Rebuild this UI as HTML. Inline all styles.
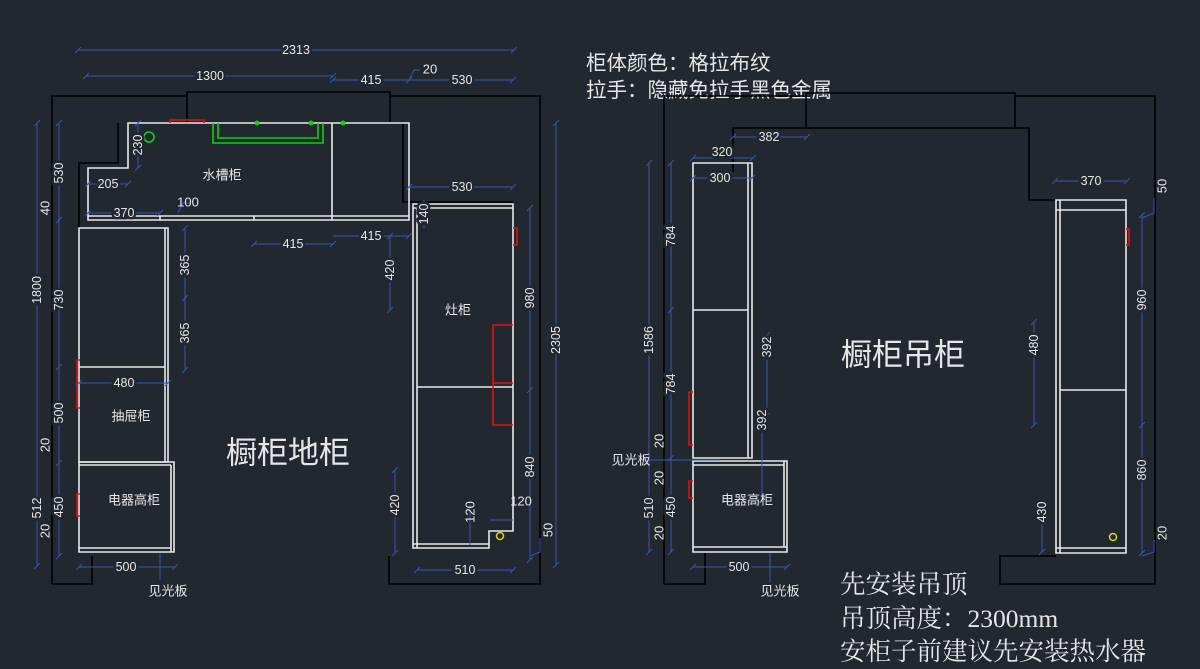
<!DOCTYPE html>
<html><head><meta charset="utf-8"><style>
html,body{margin:0;padding:0;background:#212830;width:1200px;height:669px;overflow:hidden}
svg{display:block}
.w{stroke:#e8e8e8;stroke-width:1.6;fill:none}
.k{stroke:#000;stroke-width:1.6;fill:none}
.r{stroke:#e01010;stroke-width:1.6;fill:none}
.g{stroke:#10d010;stroke-width:1.6;fill:none}
.b{stroke:#3558a8;stroke-width:1;fill:none}
text{font-family:"Liberation Sans","Noto Sans CJK SC",sans-serif;fill:#e6e6e6}
.d{font-size:12.5px;text-anchor:middle;dominant-baseline:central;stroke:#212830;stroke-width:5;paint-order:stroke}
.l{font-size:13px;text-anchor:middle;dominant-baseline:central}
.s{font-family:"Liberation Serif","Noto Serif CJK SC",serif;font-size:25.5px}
</style></head><body>
<svg width="1200" height="669" viewBox="0 0 1200 669" xmlns="http://www.w3.org/2000/svg">
<path class="k" d="M52 584 V96 H187 V92 H390 V96 H540 V584 H389 V556 M52 584 H92 V556"/>
<path class="k" d="M187 92 V123 M390 92 V122 M118 123 V163 H79 V230 M403 123 V202 H513"/>
<path class="w" d="M128 123 H409 V220 H88 V168 H128 Z M88 216 H409 M332 123 V220 M160 216 V220 M254 216 V220"/>
<path class="r" d="M170 123 V120 H204 V123"/>
<path class="g" d="M213 123 V143 H323 V123 M218 123 V138 H318 V123"/>
<circle cx="257" cy="123" r="2.5" fill="#10d010"/><circle cx="311" cy="123" r="2.5" fill="#10d010"/><circle cx="343" cy="123" r="2.5" fill="#10d010"/>
<circle class="g" cx="149" cy="137" r="5"/>
<path class="w" d="M79 228 H168 V462 H79 Z M165 228 V462 M79 367 H165"/>
<path class="r" d="M80 360 H77 V408 H80"/>
<path class="w" d="M79 462 H174 V552 H79 Z M79 548 H171 M171 465 V552 M79 465 H171"/>
<path class="r" d="M80 494 H77 V516 H80"/>
<path class="w" d="M413 204 H513 V531 H489 V548 H413 Z M417 208 V548 M413 208 H513 M417 387 H513 M413 544 H489"/>
<path class="r" d="M513 228 H517 V245 H513 M513 325 H493 V425 H513 M493 383 H513"/>
<circle cx="500" cy="536" r="3.5" fill="none" stroke="#e0d020" stroke-width="1.5"/>
<g class="b">
<path d="M78 50 H514 M86 76 H333 M333 80 H513 M409 187 H513 M88 184 H128 M88 213 H160 M254 244 H333 M333 236 H409 M79 383 H168 M79 567 H175 M417 570 H513"/>
<path d="M138 123 V168 M390 236 V310 M424 200 V228 M185 228 V370 M37 123 V566 M59 123 V556 M530 208 V560 M556 123 V565 M395 470 V553 M160 553 V580 M470 505 V545 M490 520 H513"/>
<path d="M75 53 l6 -6 M511 53 l6 -6 M83 79 l6 -6 M330 79 l6 -6 M330 83 l6 -6 M406 83 l6 -6 M510 83 l6 -6 M406 190 l6 -6 M510 190 l6 -6 M85 187 l6 -6 M125 187 l6 -6 M85 216 l6 -6 M157 216 l6 -6 M251 247 l6 -6 M330 247 l6 -6 M406 239 l6 -6 M76 386 l6 -6 M165 386 l6 -6 M76 570 l6 -6 M172 570 l6 -6 M414 573 l6 -6 M510 573 l6 -6"/>
<path d="M135 126 l6 -6 M135 171 l6 -6 M387 239 l6 -6 M387 313 l6 -6 M182 231 l6 -6 M182 301 l6 -6 M182 373 l6 -6 M34 126 l6 -6 M34 569 l6 -6 M56 126 l6 -6 M56 223 l6 -6 M56 370 l6 -6 M56 466 l6 -6 M56 559 l6 -6 M527 211 l6 -6 M527 393 l6 -6 M527 563 l6 -6 M553 126 l6 -6 M553 568 l6 -6 M392 473 l6 -6 M392 556 l6 -6"/>
<path d="M178 213 l5 -10 H190 M409 80 l5 -10 H420 M530 556 l10 -4 V538"/>
</g>
<g>
<text class="d" x="296" y="50">2313</text><text class="d" x="210" y="76">1300</text><text class="d" x="371" y="80">415</text><text class="d" x="462" y="80">530</text>
<text class="l" x="430" y="69">20</text>
<text class="d" x="462" y="187">530</text><text class="d" x="108" y="184">205</text><text class="d" x="124" y="213">370</text><text class="l" x="188" y="202">100</text>
<text class="d" x="293" y="244">415</text><text class="d" x="371" y="236">415</text><text class="d" x="124" y="383">480</text><text class="d" x="126" y="567">500</text><text class="d" x="465" y="570">510</text>
<text class="d" transform="translate(138,145) rotate(-90)">230</text>
<text class="d" transform="translate(390,270) rotate(-90)">420</text>
<text class="d" transform="translate(424,214) rotate(-90)">140</text>
<text class="d" transform="translate(185,265) rotate(-90)">365</text>
<text class="d" transform="translate(185,333) rotate(-90)">365</text>
<text class="d" transform="translate(37,290) rotate(-90)">1800</text>
<text class="d" transform="translate(37,508) rotate(-90)">512</text>
<text class="d" transform="translate(59,173) rotate(-90)">530</text>
<text class="l" transform="translate(45,208) rotate(-90)">40</text>
<text class="d" transform="translate(59,300) rotate(-90)">730</text>
<text class="d" transform="translate(59,413) rotate(-90)">500</text>
<text class="l" transform="translate(45,445) rotate(-90)">20</text>
<text class="d" transform="translate(59,507) rotate(-90)">450</text>
<text class="l" transform="translate(45,531) rotate(-90)">20</text>
<text class="d" transform="translate(530,298) rotate(-90)">980</text>
<text class="d" transform="translate(530,467) rotate(-90)">840</text>
<text class="d" transform="translate(556,340) rotate(-90)">2305</text>
<text class="l" transform="translate(548,530) rotate(-90)">50</text>
<text class="d" transform="translate(395,505) rotate(-90)">420</text>
<text class="l" transform="translate(470,512) rotate(-90)">120</text>
<text class="l" x="521" y="501">120</text>
<text class="l" x="222" y="175">水槽柜</text><text class="l" x="131" y="416">抽屉柜</text><text class="l" x="134" y="500">电器高柜</text><text class="l" x="458" y="310">灶柜</text>
<text class="l" x="168" y="591">见光板</text>
<text x="288" y="453" style="font-size:31px;text-anchor:middle;dominant-baseline:central">橱柜地柜</text>
</g>
<text x="586" y="70" style="font-size:20.5px">柜体颜色：格拉布纹</text>
<text x="586" y="97" style="font-size:20.5px">拉手：隐藏免拉手黑色金属</text>
<path class="k" d="M664 584 V96 H806 V93 H1015 V96 H1155 V584 H1000 V556 H1056 M664 584 H705 V553"/>
<path class="k" d="M806 93 V128 M1015 93 V128 M733 172 V128 H1029 V200 H1056"/>
<path class="w" d="M693 163 H752 V458 H693 Z M748 163 V458 M693 310 H748"/>
<path class="r" d="M693 392 H689 V445 H693"/>
<path class="w" d="M693 461 H787 V552 H693 Z M693 547 H787 M784 461 V547 M693 465 H784"/>
<path class="r" d="M693 481 H689 V498 H693"/>
<path class="w" d="M1056 200 H1126 V553 H1056 Z M1060 200 V553 M1056 210 H1126 M1060 390 H1126 M1056 548 H1126"/>
<path class="r" d="M1126 229 H1129 V245 H1126"/>
<circle cx="1113" cy="537" r="3.5" fill="none" stroke="#e0d020" stroke-width="1.5"/>
<g class="b">
<path d="M733 137 H807 M693 158 H753 M693 178 H752 M1055 181 H1127 M693 567 H787 M649 163 V552 M671 163 V552 M767 335 V416 M762 416 V500 M1034 322 V425 M1042 510 V552 M1142 215 V553 M770 553 V582 M640 460 H720"/>
<path d="M730 140 l6 -6 M804 140 l6 -6 M690 161 l6 -6 M750 161 l6 -6 M690 181 l6 -6 M749 181 l6 -6 M1052 184 l6 -6 M1124 184 l6 -6 M690 570 l6 -6 M784 570 l6 -6 M646 166 l6 -6 M646 555 l6 -6 M668 166 l6 -6 M668 313 l6 -6 M668 461 l6 -6 M668 555 l6 -6 M764 338 l6 -6 M764 419 l6 -6 M759 503 l6 -6 M1031 325 l6 -6 M1031 428 l6 -6 M1039 513 l6 -6 M1039 555 l6 -6 M1139 218 l6 -6 M1139 428 l6 -6 M1139 556 l6 -6"/>
<path d="M1142 218 l12 -5 V198 M1142 556 l12 -4 V540"/>
</g>
<g>
<text class="d" x="769" y="137">382</text><text class="d" x="722" y="152">320</text><text class="d" x="720" y="178">300</text><text class="d" x="1091" y="181">370</text><text class="d" x="739" y="567">500</text>
<text class="l" transform="translate(1162,186) rotate(-90)">50</text>
<text class="d" transform="translate(649,340) rotate(-90)">1586</text>
<text class="d" transform="translate(671,236) rotate(-90)">784</text>
<text class="d" transform="translate(671,384) rotate(-90)">784</text>
<text class="d" transform="translate(767,347) rotate(-90)">392</text>
<text class="d" transform="translate(762,420) rotate(-90)">392</text>
<text class="l" transform="translate(659,441) rotate(-90)">20</text>
<text class="l" transform="translate(659,478) rotate(-90)">20</text>
<text class="d" transform="translate(649,508) rotate(-90)">510</text>
<text class="d" transform="translate(671,507) rotate(-90)">450</text>
<text class="l" transform="translate(659,533) rotate(-90)">20</text>
<text class="d" transform="translate(1034,345) rotate(-90)">480</text>
<text class="d" transform="translate(1042,512) rotate(-90)">430</text>
<text class="d" transform="translate(1142,300) rotate(-90)">960</text>
<text class="d" transform="translate(1142,470) rotate(-90)">860</text>
<text class="l" transform="translate(1162,533) rotate(-90)">20</text>
<text class="l" x="747" y="500">电器高柜</text>
<text class="l" x="631" y="460">见光板</text>
<text class="l" x="780" y="591">见光板</text>
<text x="903" y="355" style="font-size:31px;text-anchor:middle;dominant-baseline:central">橱柜吊柜</text>
</g>
<text class="s" x="840" y="593">先安装吊顶</text>
<text class="s" x="840" y="627">吊顶高度：2300mm</text>
<text class="s" x="840" y="660">安柜子前建议先安装热水器</text>
</svg>
</body></html>
